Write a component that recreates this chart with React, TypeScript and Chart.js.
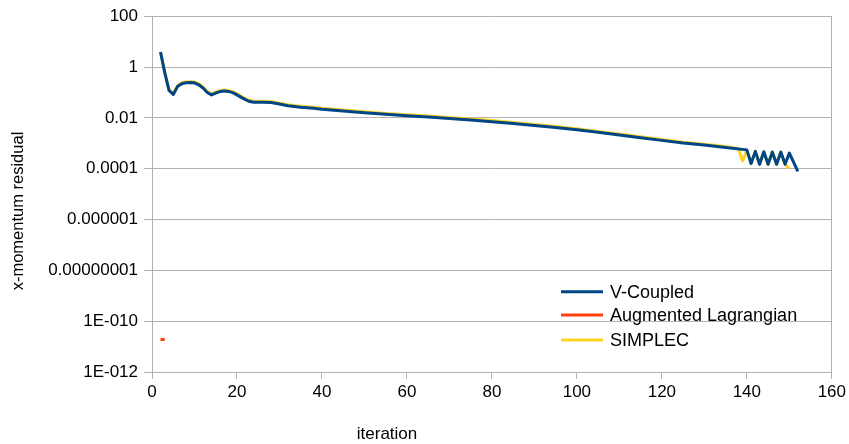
import React, { useEffect, useRef } from "react";
import { Chart, registerables } from "chart.js";

Chart.register(...registerables);

// ---------- data ----------
const seriesNames = ["V-Coupled", "Augmented Lagrangian", "SIMPLEC"];
const seriesColors = ["#004586", "#ff420e", "#ffd320"];

const vCoupledIter = [
  2, 3, 4, 5, 6, 7, 8, 9, 10, 11, 12, 13, 14, 15, 16, 17, 18, 19, 20, 21, 22, 23, 24, 26, 28, 30, 32, 35, 38, 40,
  45, 50, 55, 60, 65, 70, 75, 80, 85, 90, 95, 100, 105, 110, 115, 120, 125, 130, 135,
  140, 141, 142, 143, 144, 145, 146, 147, 148, 149, 150, 151, 152,
];
const vCoupledValues = [
  3.9, 0.6, 0.12, 0.083, 0.17, 0.22, 0.24, 0.245, 0.24, 0.2, 0.15, 0.1, 0.08, 0.095, 0.108, 0.115, 0.11, 0.098,
  0.08, 0.064, 0.052, 0.044, 0.041, 0.041, 0.04, 0.035, 0.03, 0.026, 0.024, 0.022,
  0.0185, 0.016, 0.0138, 0.0122, 0.0108, 0.0095, 0.0083, 0.0071, 0.006, 0.005, 0.0042, 0.0034, 0.0027, 0.0021,
  0.00165, 0.0013, 0.00102, 0.00085, 0.00068,
  0.00055, 0.00016, 0.00048, 0.00015, 0.00046, 0.00015, 0.00045, 0.00015, 0.00045, 0.00015, 0.00041, 0.00018,
  0.000079,
];

const augLagIter = [2, 3];
const augLagValues = [1.9e-11, 1.9e-11];

const simplecIter = [
  2, 3, 4, 5, 6, 7, 8, 9, 10, 11, 12, 13, 14, 15, 16, 17, 18, 19, 20, 21, 22, 23, 24, 26, 28, 30, 32, 35, 38, 40,
  45, 50, 55, 60, 65, 70, 75, 80, 85, 90, 95, 100, 105, 110, 115, 120, 125, 130, 135,
  138, 139, 140, 141, 142, 143, 144, 145, 146, 147, 148, 149, 150,
];
const simplecValues = [
  3.9, 0.65, 0.13, 0.09, 0.185, 0.24, 0.26, 0.265, 0.26, 0.22, 0.165, 0.11, 0.088, 0.104, 0.118, 0.126, 0.12,
  0.107, 0.088, 0.07, 0.057, 0.048, 0.045, 0.045, 0.044, 0.038, 0.033, 0.0285, 0.026, 0.024,
  0.0202, 0.0175, 0.015, 0.0133, 0.0118, 0.0104, 0.009, 0.0078, 0.0066, 0.0055, 0.0046, 0.0037, 0.0029, 0.0023,
  0.0018, 0.00142, 0.0011, 0.00092, 0.00074,
  0.00062, 0.0002, 0.00055, 0.00016, 0.00048, 0.00015, 0.00046, 0.00015, 0.00045, 0.00015, 0.00045, 0.00015,
  0.000102,
];

const yTickValues = [1e-12, 1e-10, 1e-8, 1e-6, 1e-4, 1e-2, 1, 100];
const yTickLabels = ["1E-012", "1E-010", "0.00000001", "0.000001", "0.0001", "0.01", "1", "100"];
const xMin = 0;
const xMax = 160;
const xStep = 20;
const xTitle = "iteration";
const yTitle = "x-momentum residual";

// ---------- styling ----------
const FONT = '"Liberation Sans", Arial, Helvetica, sans-serif';
const GRID = "#b3b3b3";

const decorPlugin = {
  id: "decor",
  afterDatasetsDraw(chart: any) {
    const ctx = chart.ctx as CanvasRenderingContext2D;
    const area = chart.chartArea;
    ctx.save();
    // legend inside plot area
    const lx0 = area.left + 409;
    const lx1 = lx0 + 42;
    const rows = [291.7, 315, 340];
    ctx.font = `18px ${FONT}`;
    ctx.textAlign = "left";
    ctx.textBaseline = "alphabetic";
    seriesNames.forEach((name, i) => {
      const y = rows[i];
      ctx.strokeStyle = seriesColors[i];
      ctx.lineWidth = 3;
      ctx.lineCap = "butt";
      ctx.beginPath();
      ctx.moveTo(lx0, y);
      ctx.lineTo(lx1, y);
      ctx.stroke();
      ctx.fillStyle = "#000";
      ctx.fillText(name, lx1 + 7, y + 6.4);
    });
    ctx.restore();
  },
  afterDraw(chart: any) {
    const ctx = chart.ctx as CanvasRenderingContext2D;
    ctx.save();
    ctx.fillStyle = "#000";
    // x title
    ctx.font = `17px ${FONT}`;
    ctx.textAlign = "center";
    ctx.textBaseline = "alphabetic";
    ctx.fillText(xTitle, 387, 439);
    // y title
    ctx.font = `16.5px ${FONT}`;
    ctx.translate(23.3, 211);
    ctx.rotate(-Math.PI / 2);
    ctx.fillText(yTitle, 0, 0);
    ctx.restore();
  },
};

function toPoints(xs: number[], ys: number[]) {
  return xs.map((x, i) => ({ x, y: ys[i] }));
}

export default function App() {
  const canvasRef = useRef<HTMLCanvasElement | null>(null);

  useEffect(() => {
    if (!canvasRef.current) return;
    const seriesData = [
      toPoints(vCoupledIter, vCoupledValues),
      toPoints(augLagIter, augLagValues),
      toPoints(simplecIter, simplecValues),
    ];
    const chart = new Chart(canvasRef.current, {
      type: "line",
      data: {
        datasets: seriesNames.map((name, i) => ({
          label: name,
          data: seriesData[i],
          borderColor: seriesColors[i],
          backgroundColor: seriesColors[i],
          borderWidth: 3,
          pointRadius: 0,
          pointHoverRadius: 0,
          tension: 0,
          fill: false,
          borderJoinStyle: "round" as const,
          borderCapStyle: "butt" as const,
        })),
      },
      options: {
        responsive: false,
        animation: false,
        events: [],
        layout: { padding: { left: 0, right: 15, top: 14, bottom: 0 } },
        plugins: {
          legend: { display: false },
          tooltip: { enabled: false },
          title: { display: false },
        },
        scales: {
          x: {
            type: "linear",
            min: xMin,
            max: xMax,
            afterFit: (s: any) => {
              s.height = 72;
            },
            ticks: {
              stepSize: xStep,
              autoSkip: false,
              maxRotation: 0,
              color: "#000",
              padding: 3,
              font: { family: FONT, size: 17 },
            },
            grid: {
              drawOnChartArea: true,
              color: (c: any) => (c.tick && c.tick.value === xMax ? GRID : "rgba(0,0,0,0)"),
              tickColor: GRID,
              tickLength: 7,
            },
            border: { color: GRID },
          },
          y: {
            type: "logarithmic",
            min: yTickValues[0],
            max: yTickValues[yTickValues.length - 1],
            afterFit: (s: any) => {
              s.width = 152;
            },
            afterBuildTicks: (s: any) => {
              s.ticks = yTickValues.map((v) => ({ value: v }));
            },
            ticks: {
              autoSkip: false,
              color: "#000",
              padding: 6,
              font: { family: FONT, size: 17 },
              callback: (v: any) => {
                const idx = yTickValues.findIndex(
                  (t) => Math.abs(Math.log10(t) - Math.log10(Number(v))) < 1e-6
                );
                return idx >= 0 ? yTickLabels[idx] : "";
              },
            },
            grid: { color: GRID, tickColor: GRID, tickLength: 8 },
            border: { color: GRID },
          },
        },
      },
      plugins: [decorPlugin],
    });
    return () => chart.destroy();
  }, []);

  return (
    <div style={{ position: "fixed", left: 0, top: 0, width: 849, height: 444, background: "#fff" }}>
      <canvas ref={canvasRef} width={849} height={444} style={{ display: "block" }} />
    </div>
  );
}
